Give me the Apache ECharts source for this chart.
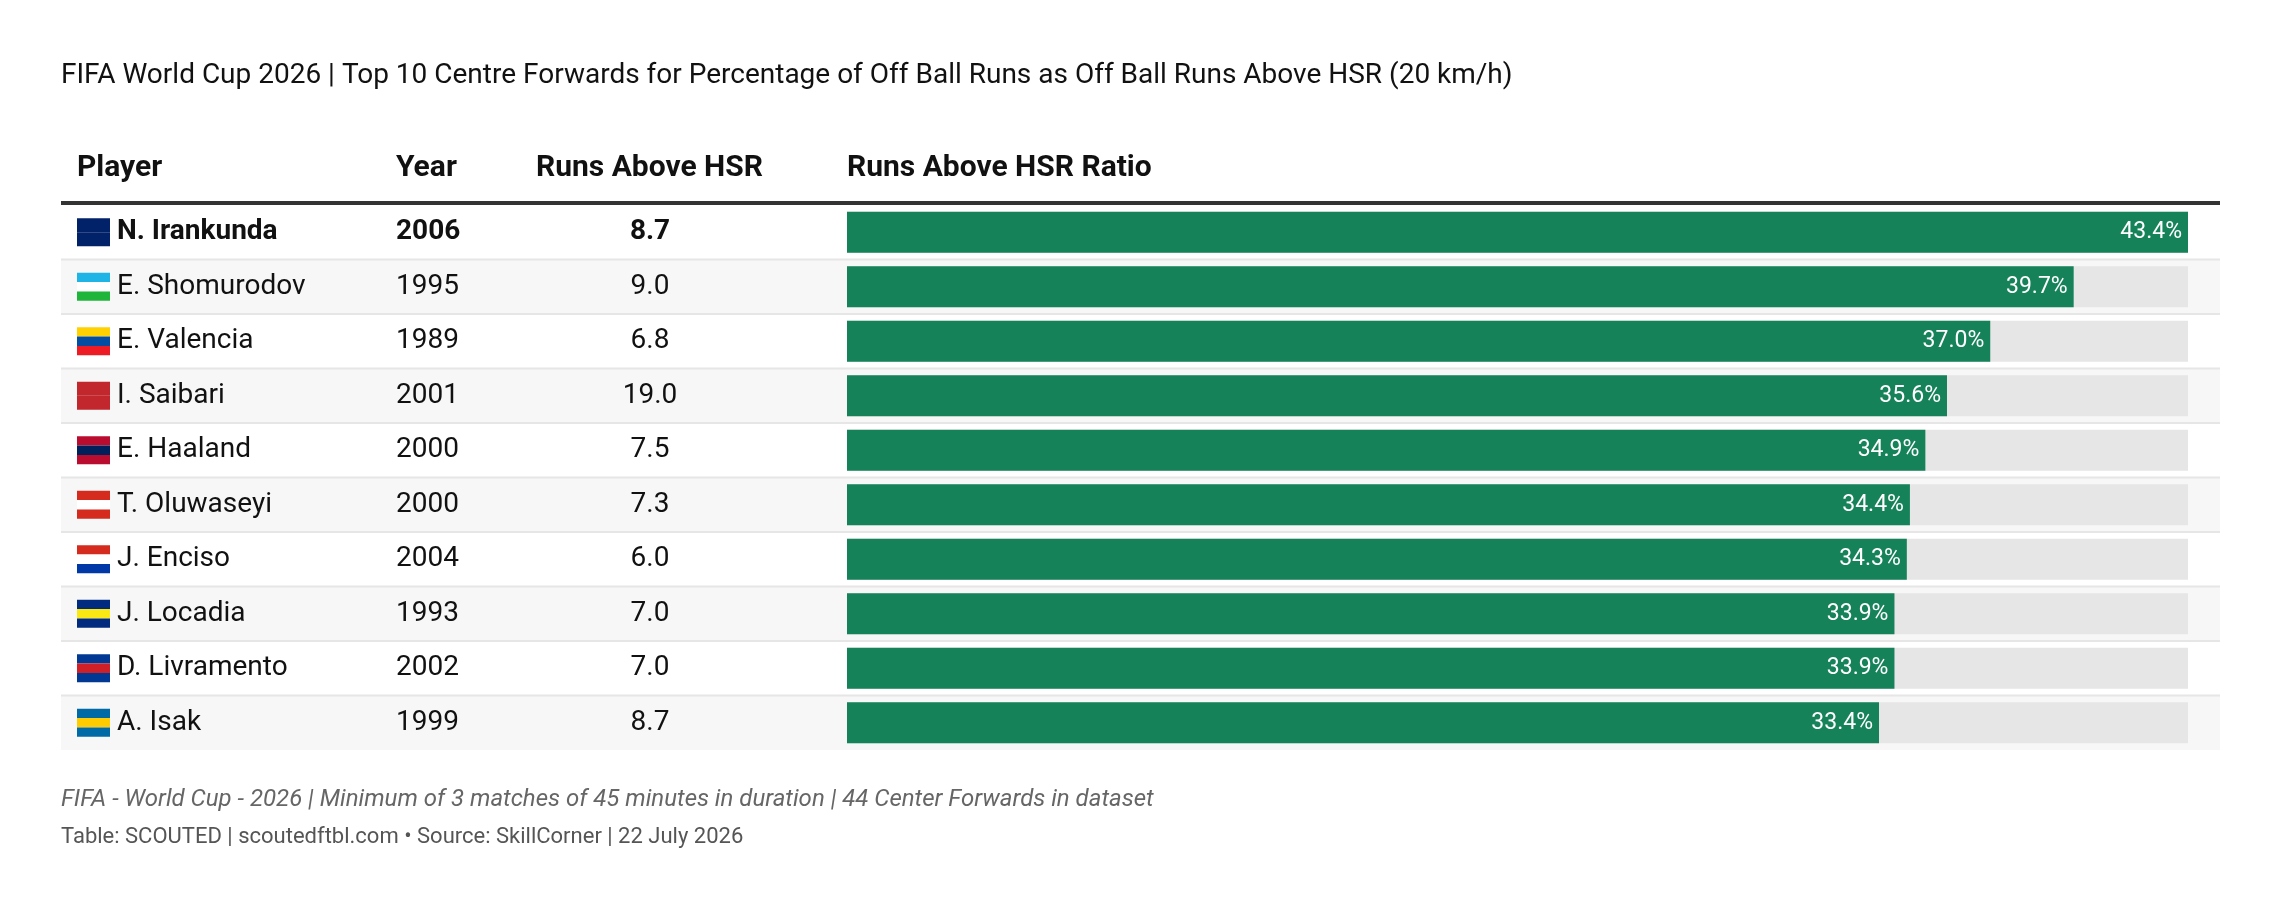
<!DOCTYPE html>
<html lang="en">
<head>
<meta charset="UTF-8">
<title>Runs Above HSR</title>
<script src="https://cdn.jsdelivr.net/npm/echarts@6/dist/echarts.min.js"></script>
<style>
  html, body { margin: 0; padding: 0; background: #fff; }
  #box { width: 2280px; height: 908px; }
</style>
</head>
<body>
<div id="box"></div>
<script>
    // table data
    var players = ['N. Irankunda', 'E. Shomurodov', 'E. Valencia', 'I. Saibari', 'E. Haaland',
                   'T. Oluwaseyi', 'J. Enciso', 'J. Locadia', 'D. Livramento', 'A. Isak'];
    var years = [2006, 1995, 1989, 2001, 2000, 2000, 2004, 1993, 2002, 1999];
    var runsAbove = [8.7, 9.0, 6.8, 19.0, 7.5, 7.3, 6.0, 7.0, 7.0, 8.7];
    var ratio = [43.4, 39.7, 37.0, 35.6, 34.9, 34.4, 34.3, 33.9, 33.9, 33.4];
    // rough flag stripes (top to bottom)
    var flags = [
        ['#012169', '#012169'], ['#1eb4e6', '#ffffff', '#1eb53a'], ['#ffd100', '#034ea2', '#ed1c24'],
        ['#c1272d', '#c1272d'], ['#ba0c2f', '#00205b', '#ba0c2f'], ['#d52b1e', '#ffffff', '#d52b1e'],
        ['#d52b1e', '#ffffff', '#0038a8'], ['#002b7f', '#f9e814', '#002b7f'], ['#003893', '#cf2027', '#003893'],
        ['#006aa7', '#fecc00', '#006aa7']
    ];

    var myChart = echarts.init(document.getElementById('box'));
    var FONT = 'Roboto';
    var L = 61, R = 2220;

    var option = {
        animation: false,
        grid: { left: 847, right: 92, top: 205, bottom: 158 },
        xAxis: { type: 'value', min: 0, max: 43.4, show: false },
        yAxis: { type: 'category', data: players, inverse: true, show: false },
        series: [{
            type: 'bar',
            data: ratio,
            barWidth: 41,
            showBackground: true,
            backgroundStyle: { color: '#e6e6e6' },
            itemStyle: { color: '#16825a' },
            label: {
                show: true, position: 'insideRight', distance: 6,
                color: '#fff', fontFamily: FONT, fontSize: 23,
                formatter: function (p) { return p.value.toFixed(1) + '%'; }
            },
            z: 5
        }]
    };
    myChart.setOption(option);

    // table text, bands and lines placed on the category scale
    var g = [];
    var step = myChart.convertToPixel({ yAxisIndex: 0 }, 1) - myChart.convertToPixel({ yAxisIndex: 0 }, 0);
    players.forEach(function (name, i) {
        var y = myChart.convertToPixel({ yAxisIndex: 0 }, i);
        var bold = i === 0 ? 'bold' : 'normal';
        g.push({ type: 'rect', z: 0, shape: { x: L, y: y - step / 2, width: R - L, height: step },
                 style: { fill: i % 2 ? '#f7f7f7' : '#ffffff' } });
        if (i > 0) g.push({ type: 'rect', z: 1, shape: { x: L, y: y - step / 2 - 1, width: R - L, height: 2 },
                 style: { fill: '#e6e6e6' } });
        var st = flags[i];
        st.forEach(function (c, k) {
            g.push({ type: 'rect', z: 2, shape: { x: 77, y: y - 14 + k * 28 / st.length, width: 33, height: 28 / st.length },
                     style: { fill: c } });
        });
        g.push({ type: 'text', z: 3, x: 117, y: y, style: { text: name, fill: '#111', font: bold + ' 28px ' + FONT, textVerticalAlign: 'middle' } });
        g.push({ type: 'text', z: 3, x: 396, y: y, style: { text: String(years[i]), fill: '#111', font: bold + ' 28px ' + FONT, textVerticalAlign: 'middle' } });
        g.push({ type: 'text', z: 3, x: 650, y: y, style: { text: runsAbove[i].toFixed(1), fill: '#111', font: bold + ' 28px ' + FONT, textAlign: 'center', textVerticalAlign: 'middle' } });
    });
    // header
    var headers = [['Player', 77], ['Year', 396], ['Runs Above HSR', 536], ['Runs Above HSR Ratio', 847]];
    headers.forEach(function (h) {
        g.push({ type: 'text', x: h[1], y: 168, style: { text: h[0], fill: '#111', font: 'bold 30px ' + FONT, textVerticalAlign: 'middle' } });
    });
    g.push({ type: 'rect', shape: { x: L, y: 201, width: R - L, height: 4 }, style: { fill: '#333' } });
    g.push({ type: 'text', x: L, y: 76, style: { text: 'FIFA World Cup 2026 | Top 10 Centre Forwards for Percentage of Off Ball Runs as Off Ball Runs Above HSR (20 km/h)', fill: '#111', font: '28px ' + FONT, textVerticalAlign: 'middle' } });
    g.push({ type: 'text', x: L, y: 800, style: { text: 'FIFA - World Cup - 2026 | Minimum of 3 matches of 45 minutes in duration | 44 Center Forwards in dataset', fill: '#666', font: 'italic 24px ' + FONT, textVerticalAlign: 'middle' } });
    g.push({ type: 'text', x: L, y: 837, style: { text: 'Table: SCOUTED | scoutedftbl.com \u2022 Source: SkillCorner | 22 July 2026', fill: '#555', font: '22px ' + FONT, textVerticalAlign: 'middle' } });

    myChart.setOption({ graphic: g });
</script>
</body>
</html>
